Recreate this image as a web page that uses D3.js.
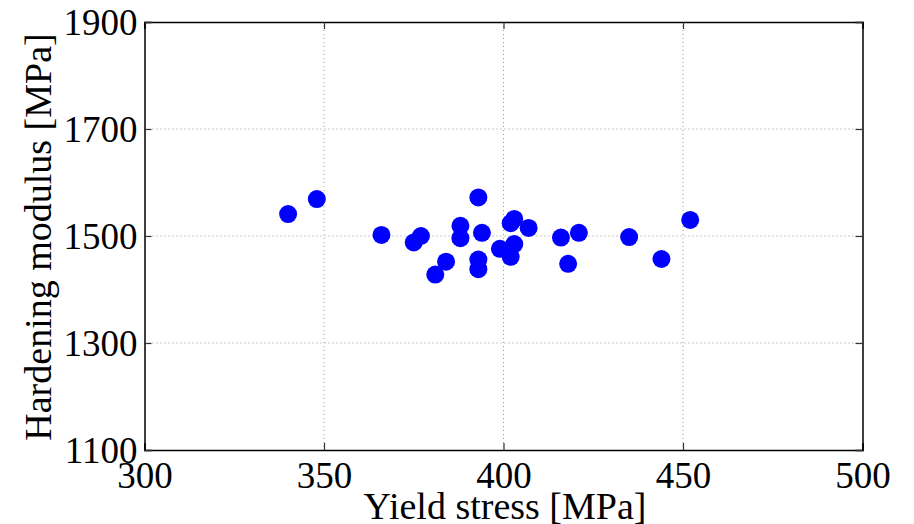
<!DOCTYPE html>
<html>
<head>
<meta charset="utf-8">
<script src="https://cdn.jsdelivr.net/npm/d3@7"></script>
<style>
  body { margin: 0; background: #fff; }
  text { font-family: "Liberation Serif", "Times New Roman", serif; fill: #000; }
</style>
</head>
<body>
<div id="chart"></div>
<script>
const WIDTH = 914, HEIGHT = 524;
const MARGIN = { left: 144.5, top: 22, right: 51.5, bottom: 74 };
const INNER_WIDTH = WIDTH - MARGIN.left - MARGIN.right;
const INNER_HEIGHT = HEIGHT - MARGIN.top - MARGIN.bottom;

// yield stress [MPa]
const yieldStress = [340, 348, 366, 375, 377, 381, 384, 388, 388, 393, 393, 393, 394,
    399, 402, 403, 402, 403, 407, 416, 421, 418, 435, 444, 452];
// hardening modulus [MPa]
const hardeningModulus = [1541, 1569, 1502, 1488, 1500, 1428, 1452, 1519, 1496, 1572, 1456, 1438, 1506,
    1476, 1524, 1532, 1461, 1485, 1515, 1497, 1506, 1448, 1498, 1457, 1530];
const xTicks = [300, 350, 400, 450, 500];
const yTicks = [1100, 1300, 1500, 1700, 1900];

const data = yieldStress.map((s, i) => ({ stress: s, modulus: hardeningModulus[i] }));

const xScale = d3.scaleLinear().domain([300, 500]).range([0, INNER_WIDTH]);
const yScale = d3.scaleLinear().domain([1100, 1900]).range([INNER_HEIGHT, 0]);

const svg = d3.select('#chart')
    .append('svg')
    .attr('width', WIDTH)
    .attr('height', HEIGHT);

const inner = svg.append('g')
    .attr('transform', `translate(${MARGIN.left},${MARGIN.top})`);

// dotted grid
inner.append('g')
    .selectAll('line')
    .data(xTicks.slice(1, -1))
    .join('line')
    .attr('x1', d => xScale(d)).attr('x2', d => xScale(d))
    .attr('y1', 0).attr('y2', INNER_HEIGHT)
    .attr('stroke', '#999')
    .attr('stroke-width', 1)
    .attr('stroke-dasharray', '1,3');

inner.append('g')
    .selectAll('line')
    .data(yTicks.slice(1, -1))
    .join('line')
    .attr('x1', 0).attr('x2', INNER_WIDTH)
    .attr('y1', d => yScale(d)).attr('y2', d => yScale(d))
    .attr('stroke', '#999')
    .attr('stroke-width', 1)
    .attr('stroke-dasharray', '1,3');

// points
inner.selectAll('circle')
    .data(data)
    .join('circle')
    .attr('cx', d => xScale(d.stress))
    .attr('cy', d => yScale(d.modulus))
    .attr('r', 9)
    .attr('fill', '#0000ff');

// axes, ticks pointing inward on all four sides
const tickLen = 7;
const xAxisBottom = d3.axisBottom(xScale).tickValues(xTicks).tickSize(-tickLen).tickPadding(12).tickFormat(d3.format('d'));
const xAxisTop = d3.axisTop(xScale).tickValues(xTicks).tickSize(-tickLen).tickFormat('');
const yAxisLeft = d3.axisLeft(yScale).tickValues(yTicks).tickSize(-tickLen).tickPadding(7).tickFormat(d3.format('d'));
const yAxisRight = d3.axisRight(yScale).tickValues(yTicks).tickSize(-tickLen).tickFormat('');

function styleAxis(g) {
    g.select('.domain').attr('stroke', '#000').attr('stroke-width', 1.5);
    g.selectAll('.tick line').attr('stroke', '#333').attr('stroke-width', 1.2);
    g.selectAll('.tick text')
        .style('font-family', '"Liberation Serif", "Times New Roman", serif')
        .style('font-size', '37px')
        .attr('fill', '#000');
}

inner.append('g')
    .attr('transform', `translate(0,${INNER_HEIGHT})`)
    .call(xAxisBottom)
    .call(styleAxis);

inner.append('g')
    .call(xAxisTop)
    .call(styleAxis);

inner.append('g')
    .call(yAxisLeft)
    .call(styleAxis)
    .selectAll('.tick text')
    .attr('dy', '0.35em');

inner.append('g')
    .attr('transform', `translate(${INNER_WIDTH},0)`)
    .call(yAxisRight)
    .call(styleAxis);

// axis titles
svg.append('text')
    .attr('x', 505)
    .attr('y', 519)
    .attr('text-anchor', 'middle')
    .style('font-size', '38px')
    .text('Yield stress [MPa]');

svg.append('text')
    .attr('transform', 'translate(51,237) rotate(-90)')
    .attr('text-anchor', 'middle')
    .style('font-size', '38px')
    .text('Hardening modulus [MPa]');
</script>
</body>
</html>
